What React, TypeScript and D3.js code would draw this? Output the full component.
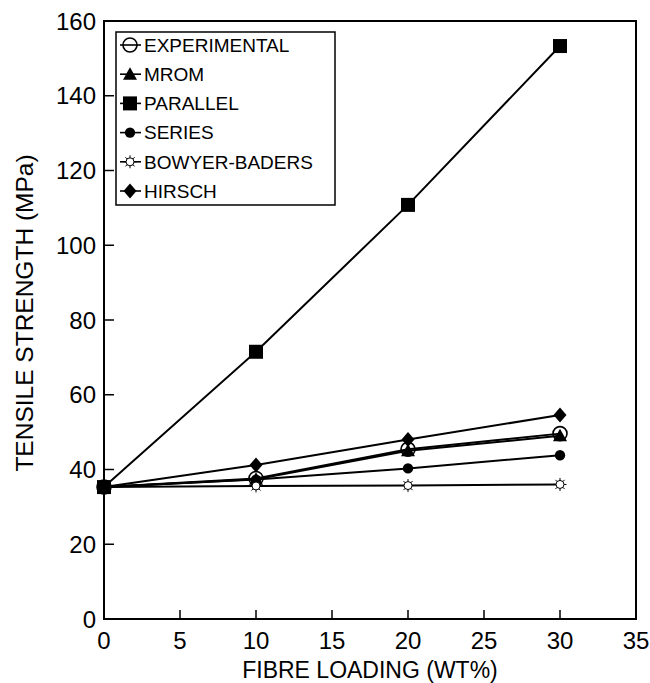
import * as d3 from "d3";

const LOADING = [0, 10, 20, 30];
const EXPERIMENTAL = [35.3, 37.6, 45.4, 49.6];
const MROM = [35.3, 37.4, 45.0, 49.0];
const PARALLEL = [35.3, 71.5, 110.8, 153.3];
const SERIES_VALS = [35.3, 37.3, 40.3, 43.8];
const BOWYER = [35.3, 35.6, 35.7, 36.0];
const HIRSCH = [35.3, 41.2, 48.0, 54.6];

const X_TICKS = [0, 5, 10, 15, 20, 25, 30, 35];
const Y_TICKS = [0, 20, 40, 60, 80, 100, 120, 140, 160];

const SERIES = [
  { key: "exp", label: "EXPERIMENTAL", values: EXPERIMENTAL, marker: "ocircle" },
  { key: "mrom", label: "MROM", values: MROM, marker: "triangle" },
  { key: "par", label: "PARALLEL", values: PARALLEL, marker: "square" },
  { key: "ser", label: "SERIES", values: SERIES_VALS, marker: "dot" },
  { key: "bb", label: "BOWYER-BADERS", values: BOWYER, marker: "sun" },
  { key: "hir", label: "HIRSCH", values: HIRSCH, marker: "diamond" },
];

const FONT = "'Liberation Sans', Arial, Helvetica, sans-serif";

function Marker({ type, x, y }: { type: string; x: number; y: number }) {
  switch (type) {
    case "ocircle":
      return <circle cx={x} cy={y} r={7} fill="none" stroke="#000" strokeWidth={1.6} />;
    case "triangle":
      return <path d={`M${x},${y - 7}L${x + 7},${y + 5.5}L${x - 7},${y + 5.5}Z`} fill="#000" />;
    case "square":
      return <rect x={x - 7} y={y - 7} width={14} height={14} fill="#000" />;
    case "dot":
      return <circle cx={x} cy={y} r={5.2} fill="#000" />;
    case "diamond":
      return <path d={`M${x},${y - 7.5}L${x + 6.5},${y}L${x},${y + 7.5}L${x - 6.5},${y}Z`} fill="#000" />;
    case "sun": {
      const rays = d3.range(8).map((i) => {
        const a = (i * Math.PI) / 4;
        return (
          <line
            key={i}
            x1={x + Math.cos(a) * 4}
            y1={y + Math.sin(a) * 4}
            x2={x + Math.cos(a) * 6.5}
            y2={y + Math.sin(a) * 6.5}
            stroke="#000"
            strokeWidth={1}
          />
        );
      });
      return (
        <g>
          <circle cx={x} cy={y} r={4} fill="#fff" stroke="#000" strokeWidth={1} />
          {rays}
        </g>
      );
    }
    default:
      return null;
  }
}

export default function App() {
  const width = 650;
  const height = 683;
  const x = d3.scaleLinear().domain([0, 35]).range([104, 636]);
  const y = d3.scaleLinear().domain([0, 160]).range([619, 21]);
  const line = d3
    .line<number>()
    .x((_, i) => x(LOADING[i]))
    .y((d) => y(d));

  const legend = { x: 116, y: 32, w: 219, h: 173, row0: 45, step: 29.2 };

  return (
    <svg
      width={width}
      height={height}
      style={{ position: "absolute", left: 0, top: 0, background: "#fff" }}
      fontFamily={FONT}
    >
      <rect x={0} y={0} width={width} height={height} fill="#fff" />

      {/* frame */}
      <rect x={x(0)} y={y(160)} width={x(35) - x(0)} height={y(0) - y(160)} fill="none" stroke="#000" strokeWidth={2} />

      {X_TICKS.map((t) => (
        <g key={"x" + t}>
          <line x1={x(t)} x2={x(t)} y1={y(0)} y2={y(0) - 9} stroke="#000" strokeWidth={1.5} />
          <text x={x(t)} y={649} textAnchor="middle" fontSize={24}>
            {t}
          </text>
        </g>
      ))}
      {Y_TICKS.map((t) => (
        <g key={"y" + t}>
          <line x1={x(0)} x2={x(0) + 10} y1={y(t)} y2={y(t)} stroke="#000" strokeWidth={1.5} />
          <text x={96} y={y(t)} dy="0.36em" textAnchor="end" fontSize={24}>
            {t}
          </text>
        </g>
      ))}

      <text x={(x(0) + x(35)) / 2} y={678} textAnchor="middle" fontSize={23}>
        FIBRE LOADING (WT%)
      </text>
      <text transform="translate(33,313) rotate(-90)" textAnchor="middle" fontSize={24.5}>
        TENSILE STRENGTH (MPa)
      </text>

      {SERIES.map((s) => (
        <path key={s.key} d={line(s.values) ?? ""} fill="none" stroke="#000" strokeWidth={2} />
      ))}
      {SERIES.map((s) => (
        <g key={s.key + "m"}>
          {s.values.map((v, i) => (
            <Marker key={i} type={s.marker} x={x(LOADING[i])} y={y(v)} />
          ))}
        </g>
      ))}

      {/* legend */}
      <rect x={legend.x} y={legend.y} width={legend.w} height={legend.h} fill="#fff" stroke="#000" strokeWidth={1.5} />
      {SERIES.map((s, i) => {
        const cy = legend.row0 + i * legend.step;
        return (
          <g key={s.key + "l"}>
            <line x1={120} x2={141} y1={cy} y2={cy} stroke="#000" strokeWidth={1.6} />
            <Marker type={s.marker} x={130} y={cy} />
            <text x={144} y={cy} dy="0.36em" fontSize={19}>
              {s.label}
            </text>
          </g>
        );
      })}
    </svg>
  );
}
